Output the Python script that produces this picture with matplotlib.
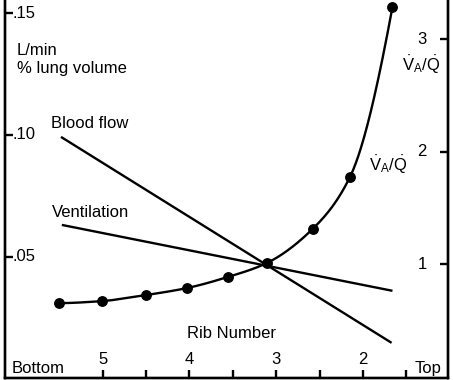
import numpy as np
import matplotlib
matplotlib.use('Agg')
import matplotlib.pyplot as plt

plt.rcParams['font.family'] = ['Liberation Sans', 'DejaVu Sans']
plt.rcParams['mathtext.fontset'] = 'custom'
plt.rcParams['mathtext.rm'] = 'Liberation Sans'
plt.rcParams['mathtext.it'] = 'Liberation Sans:italic'

# ---- data ----
rib_major = [5, 4, 3, 2]
rib_minor = [4.5, 3.5, 2.5, 1.5]
left_ticks = [0.05, 0.10, 0.15]
left_labels = ['.05', '.10', '.15']
right_ticks = [1, 2, 3]
right_labels = ['1', '2', '3']

blood_rib = [5.48, 1.67]
blood_flow = [0.0992, 0.0145]
vent_rib = [5.47, 1.66]
ventilation = [0.0630, 0.0359]

vq_rib = [5.50, 5.01, 4.50, 4.03, 3.56, 3.11, 2.58, 2.15, 1.66]
vq_ratio = [0.653, 0.671, 0.725, 0.787, 0.885, 1.009, 1.313, 1.775, 3.288]


def pchip(x, y, xn):
    x = np.asarray(x, float); y = np.asarray(y, float)
    o = np.argsort(x); x = x[o]; y = y[o]
    h = np.diff(x); d = np.diff(y) / h
    n = len(x)
    m = np.zeros(n)
    for k in range(1, n - 1):
        if d[k - 1] * d[k] > 0:
            w1 = 2 * h[k] + h[k - 1]; w2 = h[k] + 2 * h[k - 1]
            m[k] = (w1 + w2) / (w1 / d[k - 1] + w2 / d[k])
    def endm(h0, h1, d0, d1):
        v = ((2 * h0 + h1) * d0 - h0 * d1) / (h0 + h1)
        if np.sign(v) != np.sign(d0):
            v = 0.0
        elif np.sign(d0) != np.sign(d1) and abs(v) > abs(3 * d0):
            v = 3 * d0
        return v
    m[0] = endm(h[0], h[1], d[0], d[1])
    m[-1] = endm(h[-1], h[-2], d[-1], d[-2])
    xn = np.asarray(xn, float)
    i = np.clip(np.searchsorted(x, xn) - 1, 0, n - 2)
    t = (xn - x[i]) / h[i]
    h00 = 2 * t**3 - 3 * t**2 + 1
    h10 = t**3 - 2 * t**2 + t
    h01 = -2 * t**3 + 3 * t**2
    h11 = t**3 - t**2
    return h00 * y[i] + h10 * h[i] * m[i] + h01 * y[i + 1] + h11 * h[i] * m[i + 1]


fig = plt.figure(figsize=(4.53, 3.80), dpi=100)
ax = fig.add_axes([0.012, 0.005, 0.977, 0.995])
ax2 = ax.twinx()

FS = 12
LW = 1.7

ax.set_xlim(6.12, 1.02)
ax.set_ylim(0.0, 0.1555)
ax2.set_ylim(-0.014, 3.35)

ax.plot(blood_rib, blood_flow, color='black', lw=LW, solid_capstyle='butt')
ax.plot(vent_rib, ventilation, color='black', lw=LW, solid_capstyle='butt')

xs = np.linspace(min(vq_rib), max(vq_rib), 400)
ax2.plot(xs, pchip(vq_rib, vq_ratio, xs), color='black', lw=LW)
ax2.plot(vq_rib, vq_ratio, 'o', color='black', ms=6.8)

for a in (ax, ax2):
    a.spines['top'].set_visible(False)
    for s in ('left', 'right', 'bottom'):
        a.spines[s].set_linewidth(LW)

ax.set_xticks(rib_major)
ax.set_xticks(rib_minor, minor=True)
ax.set_yticks(left_ticks)
ax2.set_yticks(right_ticks)
ax.tick_params(axis='both', which='major', direction='in', length=6, width=LW,
               labelbottom=False, labelleft=False)
ax.tick_params(axis='x', which='minor', direction='in', length=5.5, width=LW)
ax.tick_params(axis='y', which='minor', left=False)
ax2.tick_params(axis='y', direction='in', length=6, width=LW, labelright=False)

# tick labels drawn inside the frame
for v, lab in zip(left_ticks, left_labels):
    ax.text(6.04, v, lab, fontsize=FS, ha='left', va='center')
for v, lab in zip(right_ticks, right_labels):
    ax2.text(1.263, v, lab, fontsize=FS, ha='right', va='center')
for r in rib_major:
    ax.text(r, 0.0059, str(r), fontsize=FS, ha='center', va='baseline')

ax.text(6.05, 0.0023, 'Bottom', fontsize=FS, ha='left', va='baseline')
ax.text(1.40, 0.0023, 'Top', fontsize=FS, ha='left', va='baseline')
ax.text(3.51, 0.0166, 'Rib Number', fontsize=FS, ha='center', va='baseline')

ax.text(5.99, 0.1329, 'L/min', fontsize=FS, ha='left', va='baseline')
ax.text(5.99, 0.1256, '% lung volume', fontsize=FS, ha='left', va='baseline')
ax.text(5.59, 0.1027, 'Blood flow', fontsize=FS, ha='left', va='baseline')
ax.text(5.59, 0.0664, 'Ventilation', fontsize=FS, ha='left', va='baseline')

vq_label = r'$\dot{\mathrm{V}}_{\mathrm{A}}/\dot{\mathrm{Q}}$'
ax2.text(1.332, 2.772, vq_label, fontsize=FS, ha='center', va='center')
ax2.text(1.707, 1.882, vq_label, fontsize=FS, ha='center', va='center')

fig.savefig('out.png', dpi=100)
